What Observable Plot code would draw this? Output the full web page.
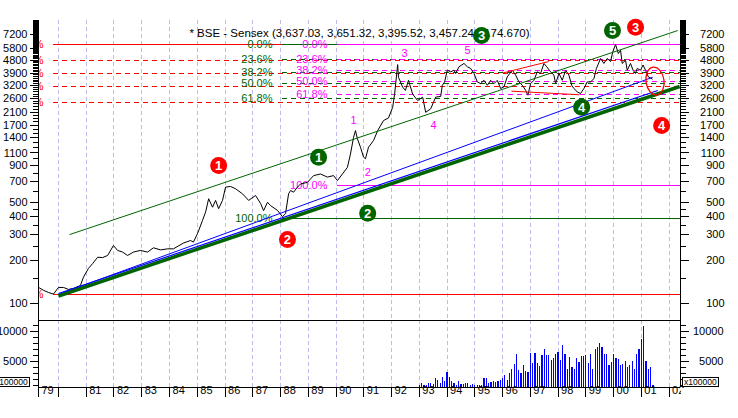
<!DOCTYPE html>
<html>
<head>
<meta charset="utf-8">
<script src="https://cdn.jsdelivr.net/npm/d3@7"></script>
<script src="https://cdn.jsdelivr.net/npm/@observablehq/plot@0.6"></script>
<style>
  body { margin: 0; background: #fff; }
  #chart { position: relative; width: 738px; height: 418px; overflow: hidden; background: #fff;
           font-family: "Liberation Sans", Arial, sans-serif; }
  #chart svg { position: absolute; left: 0; background: transparent !important; }
  #chart [aria-label$="tick"] path, #chart [aria-label="rule"] line { shape-rendering: crispEdges; }
  .vbox { position: absolute; border: 1px solid #000; font: 8.5px "Liberation Sans", Arial, sans-serif;
          line-height: 8px; height: 8px; padding: 0 1px; white-space: nowrap; color: #000; background: #fff; }
  .mask { position: absolute; background: #fff; }
</style>
</head>
<body>
<div id="chart"></div>
<script>
// ---------------- data ----------------
const xDomain = [1979.28, 2002.41];
const priceDomain = [76.9, 9020];
const volDomain = [617, 11783];

const gridYears = [1980,1981,1982,1983,1984,1985,1986,1987,1988,1989,1990,1991,1992,1993,1994,1995,1996,1997,1998,1999,2000,2001,2002];
const yearTickPos = [1979.28,1980,1981,1982,1983,1984,1985,1986,1987,1988,1989,1990,1991,1992,1993,1994,1995,1996,1997,1998,1999,2000,2001,2002];
const yearLabelPos = [1979.28,1981,1982,1983,1984,1985,1986,1987,1988,1989,1990,1991,1992,1993,1994,1995,1996,1997,1998,1999,2000,2001,2002];
const yearLabels = ["79","81","82","83","84","85","86","87","88","89","90","91","92","93","94","95","96","97","98","99","00","01","02"];

const priceTicks = [100,200,300,400,500,700,900,1100,1400,1700,2100,2600,3200,3900,4800,5800,7200];
const volTicks = [5000,10000];

const title = "* BSE - Sensex (3,637.03, 3,651.32, 3,395.52, 3,457.24, -174.670)";

const priceYears = [
 1979.28,1979.47,1979.64,1979.82,1980.00,1980.18,1980.36,1980.54,1980.79,1980.90,
 1981.08,1981.23,1981.41,1981.59,1981.77,1981.98,1982.13,1982.31,1982.49,1982.70,
 1982.95,1983.21,1983.42,1983.68,1983.93,1984.14,1984.50,1984.76,1984.86,1985.01,
 1985.19,1985.30,1985.41,1985.55,1985.66,1985.77,1985.91,1986.02,1986.20,1986.38,
 1986.63,1986.85,1987.10,1987.28,1987.39,1987.53,1987.64,1987.89,1988.07,1988.18,
 1988.29,1988.36,1988.47,1988.61,1988.72,1988.97,1989.19,1989.44,1989.69,1989.91,
 1990.05,1990.23,1990.41,1990.52,1990.63,1990.70,1990.77,1990.88,1990.99,1991.06,
 1991.17,1991.35,1991.50,1991.71,1991.89,1992.04,1992.11,1992.22,1992.25,1992.40,
 1992.50,1992.61,1992.76,1992.94,1993.12,1993.23,1993.41,1993.59,1993.77,1993.83,
 1993.91,1994.01,1994.13,1994.25,1994.31,1994.43,1994.61,1994.73,1994.85,1994.97,
 1995.09,1995.21,1995.33,1995.45,1995.57,1995.69,1995.81,1995.93,1996.05,1996.17,
 1996.35,1996.47,1996.59,1996.71,1996.83,1996.91,1997.01,1997.13,1997.25,1997.37,
 1997.49,1997.59,1997.73,1997.85,1997.91,1998.03,1998.15,1998.27,1998.39,1998.49,
 1998.57,1998.69,1998.81,1998.93,1999.05,1999.17,1999.29,1999.38,1999.53,1999.65,
 1999.77,1999.89,1999.97,2000.07,2000.17,2000.25,2000.31,2000.43,2000.49,2000.61,
 2000.70,2000.79,2000.85,2000.97,2001.06,2001.15,2001.25,2001.39
];
const priceValues = [
 130,124,120,117,130,130,126,128,134,153,
 176,190,210,209,216,253,234,228,216,228,
 234,228,244,236,240,240,263,274,267,306,
 377,430,532,465,518,454,518,640,646,623,
 575,518,560,494,440,503,477,442,400,420,
 575,606,590,640,672,690,768,788,750,768,
 710,788,876,1082,1410,1570,1378,1206,1030,1004,
 1206,1340,1570,1840,1920,2270,2800,4480,3660,3130,
 2970,3490,2800,2530,2670,2100,2220,2670,2700,3226,
 3400,4095,3990,4095,3890,4327,4560,4327,4210,3890,
 3400,3310,3490,3226,3490,3310,3490,3062,3148,3690,
 4095,3790,3400,3226,2980,2755,3310,3490,3990,3890,
 4560,4327,3990,3790,3310,3890,3490,4095,3790,3226,
 3062,2905,2830,3062,3400,3400,3580,4210,4933,4560,
 4933,4700,5485,6160,5340,5615,4560,4800,4095,4560,
 4095,3890,4210,4095,4450,4095,3690,3560
];

// monthly volume (x100000), Jan 1993 onwards
const volStart = 1993;
const volValues = [
 944,1333,944,944,1278,1222,1100,2056,1778,1333,2222,1611,
 3111,2222,1611,1222,944,1611,1100,1100,1278,1278,1000,1100,
 1000,944,944,1000,2056,2056,1333,1500,1611,1500,1611,1778,
 2056,2611,1778,3000,3556,4444,6111,3444,3000,4278,3333,3167,
 6333,4667,6222,4556,4167,5944,6944,5944,5944,5111,5389,6056,
 6389,5111,7611,6111,3611,5611,3889,3611,5389,4833,5778,5778,
 5944,4556,6056,3611,6889,7222,7889,7333,6111,6111,4278,4722,
 6111,5389,5278,4278,4444,5000,3889,4278,5000,3556,6111,6889,
 8556,10778,5000,3611,3889,944
];

// Fibonacci retracement sets (red, green, magenta)
const fibRatios = [0, 0.236, 0.382, 0.5, 0.618, 1];
const fibLabels = ["0.0%","23.6%","38.2%","50.0%","61.8%","100.0%"];
const fibHigh = [6200, 6200, 6200];
const fibLow = [116, 387, 656];
const fibStart = [1979.82, 1988.07, 1990.05];

// trend lines
const trendT1 = [1980.40, 1980.00, 1980.00, 1980.00, 1996.00, 1996.32];
const trendV1 = [301, 116.3, 113.5, 118, 3917, 2937];
const trendT2 = [2002.31, 2001.41, 2002.38, 2001.59, 1997.66, 1998.77];
const trendV2 = [7690, 3665, 3162, 2966, 4700, 2773];

// wave markers
const redWaveText = ["1","2","3","4"];
const redWaveT = [1985.77, 1988.25, 2000.79, 2001.73];
const redWaveV = [902, 278, 8110, 1702];
const greenWaveText = ["1","2","3","4","5"];
const greenWaveT = [1989.37, 1991.14, 1995.24, 1998.85, 1999.96];
const greenWaveV = [1029, 423, 7115, 2275, 7690];
const minorWaveText = ["1","2","3","4","5"];
const minorWaveT = [1990.63, 1991.14, 1992.47, 1993.51, 1994.74];
const minorWaveV = [1846, 811, 5345, 1702, 5597];

const ellipseT = 2001.51, ellipseV = 3420;

// ---------------- derived tables ----------------
const price = priceYears.map((t, i) => ({t, v: priceValues[i]}));
const vol = volValues.map((v, i) => ({t: volStart + i / 12, v}));
const fibColors = ["#ff0000", "#006400", "#ff00ff"];
const fibRows = [];
fibHigh.forEach((h, s) => fibRatios.forEach((r, k) => fibRows.push({
  set: s, level: h - r * (h - fibLow[s]), start: fibStart[s],
  // the red set's labels sit behind the left frame edge: only their "%" shows
  label: s === 0 ? "%" : fibLabels[k], solid: r === 0 || r === 1
})));
const trends = trendT1.map((t, i) => ({t1: t, v1: trendV1[i], t2: trendT2[i], v2: trendV2[i]}));
const mk = (T, V, L) => T.map((t, i) => ({t, v: V[i], s: L[i]}));
const redWaves = mk(redWaveT, redWaveV, redWaveText);
const greenWaves = mk(greenWaveT, greenWaveV, greenWaveText);
const minorWaves = mk(minorWaveT, minorWaveV, minorWaveText);

const priceMinor = [...d3.range(150, 500, 50), ...d3.range(600, 9001, 100)].filter(v => !priceTicks.includes(v));
const volMinor = d3.range(1000, 11001, 1000).filter(v => !volTicks.includes(v));

const FONT = "Liberation Sans, Arial, sans-serif";
const GRID = "#bcbcf0";

const fibMarks = [];
[0, 1, 2].forEach(s => {
  const rows = fibRows.filter(d => d.set === s);
  fibMarks.push(
    Plot.ruleY(rows.filter(d => d.solid), {y: "level", x1: "start", x2: xDomain[1], stroke: fibColors[s], strokeWidth: 1}),
    Plot.ruleY(rows.filter(d => !d.solid), {y: "level", x1: "start", x2: xDomain[1], stroke: fibColors[s], strokeWidth: 1, strokeDasharray: "5,4"})
  );
});
const fibTextMarks = [0, 1, 2].map(s => Plot.text(fibRows.filter(d => d.set === s), {
  x: "start", y: "level", text: "label", fill: fibColors[s], textAnchor: "end", dx: -10,
  fontSize: 11, clip: s === 0 ? true : false
}));

const noLabel = () => "";

// ---------------- price panel ----------------
const pricePlot = Plot.plot({
  width: 738, height: 320,
  marginLeft: 38, marginRight: 58, marginTop: 20, marginBottom: 0,
  style: {fontFamily: FONT, fontSize: "11px", background: "transparent", overflow: "visible"},
  x: {domain: xDomain, axis: null},
  y: {type: "log", domain: priceDomain},
  marks: [
    Plot.ruleX(gridYears, {stroke: GRID, strokeDasharray: "4,3"}),
    ...fibMarks,
    ...fibTextMarks,
    Plot.line(price, {x: "t", y: "v", stroke: "#000", strokeWidth: 1}),
    Plot.link([trends[0]], {x1: "t1", y1: "v1", x2: "t2", y2: "v2", stroke: "#006400", strokeWidth: 1}),
    Plot.link([trends[1]], {x1: "t1", y1: "v1", x2: "t2", y2: "v2", stroke: "#0000ff", strokeWidth: 1}),
    Plot.link([trends[2]], {x1: "t1", y1: "v1", x2: "t2", y2: "v2", stroke: "#006400", strokeWidth: 3.5}),
    Plot.link([trends[3]], {x1: "t1", y1: "v1", x2: "t2", y2: "v2", stroke: "#0000ff", strokeWidth: 1.2}),
    Plot.link(trends.slice(4), {x1: "t1", y1: "v1", x2: "t2", y2: "v2", stroke: "#ff0000", strokeWidth: 1}),
    Plot.ruleX(xDomain, {stroke: "#000"}),
    (index, scales) => {
      const cx = scales.x(ellipseT), cy = scales.y(ellipseV);
      return d3.create("svg:ellipse")
        .attr("cx", cx).attr("cy", cy).attr("rx", 9).attr("ry", 14)
        .attr("transform", `rotate(-8 ${cx} ${cy})`)
        .attr("fill", "none").attr("stroke", "#ff0000").attr("stroke-width", 1.3).node();
    },
    Plot.text([title], {frameAnchor: "top", dy: 8.5, fill: "#000", fontSize: 11.5}),
    Plot.text(minorWaves, {x: "t", y: "v", text: "s", fill: "#ff00ff", fontSize: 11}),
    Plot.dot(redWaves, {x: "t", y: "v", r: 8.5, fill: "#ff0000", stroke: "none"}),
    Plot.text(redWaves, {x: "t", y: "v", text: "s", fill: "#fff", fontWeight: "bold", fontSize: 13, dy: 0.5}),
    Plot.dot(greenWaves, {x: "t", y: "v", r: 8.5, fill: "#006400", stroke: "none"}),
    Plot.text(greenWaves, {x: "t", y: "v", text: "s", fill: "#fff", fontWeight: "bold", fontSize: 13, dy: 0.5}),
    Plot.axisY(priceTicks, {anchor: "left", tickSize: 8, tickFormat: noLabel, label: null}),
    Plot.axisY(priceMinor, {anchor: "left", tickSize: 5, tickFormat: noLabel, label: null}),
    Plot.axisY(priceTicks, {anchor: "right", tickSize: 8, tickFormat: noLabel, label: null}),
    Plot.axisY(priceMinor, {anchor: "right", tickSize: 5, tickFormat: noLabel, label: null}),
    Plot.text(priceTicks, {y: d => d, frameAnchor: "left", dx: -11, textAnchor: "end", text: d => String(d), fill: "#000", fontSize: 11}),
    Plot.text(priceTicks, {y: d => d, frameAnchor: "right", dx: 44, textAnchor: "end", text: d => String(d), fill: "#000", fontSize: 11})
  ]
});
pricePlot.style.top = "0px";

// ---------------- volume panel ----------------
const volPlot = Plot.plot({
  width: 738, height: 99,
  marginLeft: 38, marginRight: 58, marginTop: 1, marginBottom: 31,
  style: {fontFamily: FONT, fontSize: "11px", background: "transparent", overflow: "visible"},
  x: {domain: xDomain},
  y: {domain: volDomain},
  marks: [
    Plot.ruleX(gridYears, {stroke: GRID, strokeDasharray: "4,3"}),
    Plot.ruleX(vol, {x: "t", y1: volDomain[0], y2: "v", stroke: "#0000ff", strokeWidth: 1.2}),
    Plot.ruleX(xDomain, {stroke: "#000"}),
    Plot.ruleY(volDomain, {stroke: "#000"}),
    Plot.axisY(volTicks, {anchor: "left", tickSize: 8, tickFormat: noLabel, label: null}),
    Plot.axisY(volMinor, {anchor: "left", tickSize: 5, tickFormat: noLabel, label: null}),
    Plot.axisY(volTicks, {anchor: "right", tickSize: 8, tickFormat: noLabel, label: null}),
    Plot.axisY(volMinor, {anchor: "right", tickSize: 5, tickFormat: noLabel, label: null}),
    Plot.text(volTicks, {y: d => d, frameAnchor: "left", dx: -11, textAnchor: "end", text: d => String(d), fill: "#000", fontSize: 11}),
    Plot.text(volTicks, {y: d => d, frameAnchor: "right", dx: 43, textAnchor: "end", text: d => String(d), fill: "#000", fontSize: 11}),
    Plot.axisX(yearTickPos, {anchor: "bottom", tickSize: 10, tickFormat: noLabel, label: null}),
    Plot.text(yearLabelPos, {x: d => d, frameAnchor: "bottom", dx: 3, dy: 6, textAnchor: "start",
      text: (d, i) => yearLabels[i], fill: "#000", fontSize: 11})
  ]
});
volPlot.style.top = "319px";

const chart = document.getElementById("chart");
chart.appendChild(pricePlot);
chart.appendChild(volPlot);

// the last year label is cut at the right frame edge, as in the reference
const mask = document.createElement("div");
mask.className = "mask";
mask.style.left = "681px"; mask.style.top = "388px"; mask.style.width = "14px"; mask.style.height = "14px";
chart.appendChild(mask);

// unit boxes
const b1 = document.createElement("div");
b1.className = "vbox"; b1.textContent = "x100000";
b1.style.left = "-7px"; b1.style.top = "377px";
const b2 = document.createElement("div");
b2.className = "vbox"; b2.textContent = "x100000";
b2.style.left = "682px"; b2.style.top = "377px";
chart.appendChild(b1); chart.appendChild(b2);
</script>
</body>
</html>
